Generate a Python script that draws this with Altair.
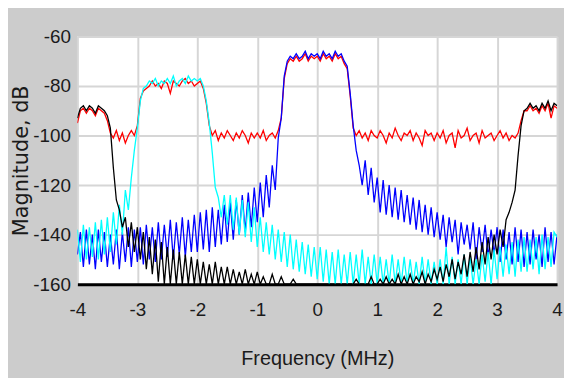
import altair as alt
import pandas as pd

# Frequency grid (MHz), 0.05 MHz step from -4 to 4
FREQ = [round(-4 + 0.05 * i, 2) for i in range(161)]

RED = [
    -95, -90, -89, -91, -89, -90, -92, -89, -90, -91,
    -94, -99, -101, -98, -102, -99, -103, -100, -98, -100,
    -96, -85, -82, -81, -80, -78, -80, -79, -81, -78,
    -79, -83, -78, -79, -80, -78, -77, -79, -78, -80,
    -79, -78, -81, -87, -96, -100, -98, -102, -99, -101,
    -98, -100, -102, -99, -101, -98, -100, -103, -99, -101,
    -99, -101, -98, -102, -100, -99, -101, -98, -93, -77,
    -71, -69, -70, -68, -70, -69, -67, -70, -68, -69,
    -68, -70, -67, -69, -68, -70, -67, -69, -68, -71,
    -73, -84, -97, -100, -98, -101, -99, -102, -98, -100,
    -101, -98, -100, -103, -99, -101, -97, -100, -102, -99,
    -100, -98, -102, -99, -101, -104, -98, -100, -99, -102,
    -99, -101, -98, -103, -100, -99, -105, -98, -101, -100,
    -97, -102, -100, -99, -103, -98, -101, -100, -99, -102,
    -100, -98, -101, -99, -102, -100, -101, -99, -94, -90,
    -90, -88, -90, -89, -91, -88, -90, -87, -93, -88,
    -89,
]

BLUE = [
    -148, -139, -153, -138, -152, -140, -154, -138, -151, -139,
    -153, -140, -152, -138, -154, -139, -151, -137, -153, -138,
    -151, -137, -152, -136, -150, -137, -151, -135, -150, -136,
    -149, -134, -150, -135, -148, -133, -149, -134, -147, -132,
    -147, -131, -146, -130, -147, -129, -145, -130, -144, -128,
    -143, -127, -142, -126, -140, -124, -139, -123, -137, -121,
    -135, -119, -133, -116, -129, -112, -122, -101, -93, -76,
    -70, -68, -69, -67, -69, -68, -66, -69, -67, -68,
    -67, -69, -66, -68, -67, -69, -66, -68, -67, -70,
    -72, -83, -96, -106, -112, -120, -110, -124, -113, -127,
    -117, -131, -118, -132, -120, -133, -121, -134, -122, -135,
    -124, -136, -125, -138, -126, -139, -128, -140, -129, -141,
    -131, -142, -132, -145, -133, -143, -134, -148, -135, -144,
    -136, -146, -135, -150, -137, -147, -136, -149, -138, -148,
    -137, -151, -138, -150, -139, -152, -137, -151, -138, -153,
    -139, -152, -138, -150, -140, -153, -137, -151, -139, -152,
    -140,
]

CYAN = [
    -138, -151, -136, -150, -137, -149, -135, -150, -134, -148,
    -133, -147, -131, -144, -128, -140, -122, -130, -117, -106,
    -97, -86, -81, -80, -78, -79, -77, -80, -78, -79,
    -77, -79, -76, -80, -78, -77, -79, -76, -78, -77,
    -78, -77, -80, -86, -95, -107, -121, -125, -133, -124,
    -136, -124, -138, -125, -140, -126, -141, -127, -143, -129,
    -145, -133, -147, -135, -148, -136, -150, -138, -151, -139,
    -153, -140, -154, -142, -155, -143, -156, -144, -157, -145,
    -158, -145, -159, -146, -160, -147, -160, -146, -160, -148,
    -160, -147, -160, -148, -160, -146, -160, -149, -160, -148,
    -160, -149, -160, -150, -160, -148, -160, -150, -160, -149,
    -160, -150, -160, -151, -160, -149, -160, -150, -160, -151,
    -160, -150, -160, -145, -160, -149, -160, -150, -160, -148,
    -160, -149, -160, -150, -160, -148, -159, -147, -160, -146,
    -158, -145, -157, -144, -156, -143, -157, -142, -155, -141,
    -155, -142, -154, -141, -156, -140, -154, -141, -153, -139,
    -141,
]

BLACK = [
    -93, -89, -88, -90, -88, -89, -91, -88, -89, -90,
    -92, -97, -113, -126, -130, -137, -133, -145, -135, -147,
    -137, -150, -139, -154, -141, -156, -142, -159, -143, -160,
    -145, -160, -146, -160, -147, -160, -148, -160, -149, -160,
    -150, -160, -151, -160, -152, -160, -151, -160, -153, -160,
    -153, -160, -154, -160, -155, -160, -154, -160, -156, -160,
    -155, -160, -157, -160, -160, -156, -160, -160, -157, -160,
    -160, -160, -158, -160, -160, -160, -160, -160, -160, -160,
    -160, -160, -160, -160, -160, -160, -160, -160, -160, -160,
    -160, -160, -160, -158, -160, -160, -160, -160, -157, -160,
    -160, -158, -160, -157, -160, -158, -160, -156, -160, -157,
    -160, -156, -160, -157, -159, -155, -160, -156, -159, -154,
    -158, -153, -159, -152, -157, -150, -158, -151, -156, -148,
    -157, -147, -155, -145, -154, -143, -152, -141, -150, -140,
    -148, -138, -145, -134, -131, -127, -122, -108, -96, -90,
    -89, -87, -89, -88, -90, -87, -89, -86, -90, -87,
    -88,
]

X_TICKS = [-4, -3, -2, -1, 0, 1, 2, 3, 4]
Y_TICKS = [-160, -140, -120, -100, -80, -60]

SERIES = [
    ("red", RED, "#ff0000"),
    ("blue", BLUE, "#0000ff"),
    ("cyan", CYAN, "#00ffff"),
    ("black", BLACK, "#000000"),
]

LABEL_FONT = "Liberation Sans, Arial, sans-serif"
HYPHEN = "'' + datum.value"

x_enc = alt.X(
    "f:Q",
    scale=alt.Scale(domain=[-4, 4], nice=False),
    axis=alt.Axis(
        values=X_TICKS,
        labelExpr=HYPHEN,
        title="Frequency (MHz)",
        ticks=False,
        domain=True,
        domainColor="#000000",
        domainWidth=3,
        grid=True,
        gridColor="#d6d6d6",
        gridWidth=2,
        labelFont=LABEL_FONT,
        labelFontSize=19,
        labelColor="#1a1a1a",
        labelPadding=17,
        labelFlush=False,
        labelOverlap=False,
        titleFont=LABEL_FONT,
        titleFontSize=20,
        titleFontWeight="normal",
        titleColor="#1a1a1a",
        titlePadding=29,
    ),
)

y_enc = alt.Y(
    "v:Q",
    scale=alt.Scale(domain=[-160, -60], nice=False),
    axis=alt.Axis(
        values=Y_TICKS,
        labelExpr=HYPHEN,
        title="Magnitude, dB",
        ticks=False,
        domain=False,
        grid=True,
        gridColor="#d6d6d6",
        gridWidth=2,
        labelFont=LABEL_FONT,
        labelFontSize=19,
        labelColor="#1a1a1a",
        labelPadding=7,
        labelFlush=False,
        labelOverlap=False,
        titleFont="DejaVu Sans",
        titleFontSize=21,
        titleFontWeight="normal",
        titleColor="#1a1a1a",
        titlePadding=1,
    ),
)

layers = []
for name, vals, col in SERIES:
    df = pd.DataFrame({"f": FREQ, "v": vals})
    layers.append(
        alt.Chart(df)
        .mark_line(color=col, strokeWidth=1.3, clip=True)
        .encode(x=x_enc, y=y_enc)
    )

chart = (
    alt.layer(*layers)
    .properties(
        width=484,
        height=250,
        background="#cccccc",
        padding={"left": 70, "top": 27, "right": 7, "bottom": 93},
        autosize=alt.AutoSizeParams(type="none"),
    )
    .configure_view(fill="white", strokeWidth=0)
)

chart.save("out.html", embed_options={"renderer": "svg", "actions": False})
